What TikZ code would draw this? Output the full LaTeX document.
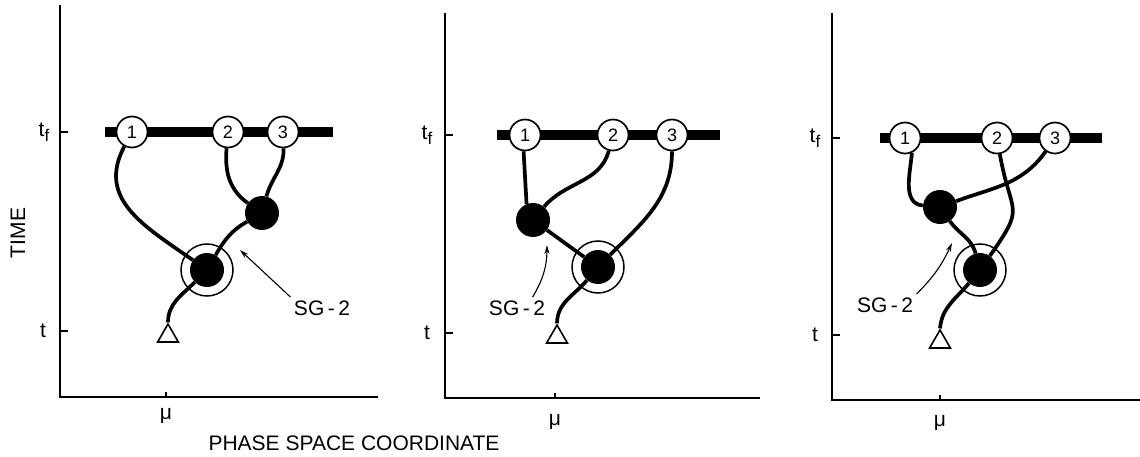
\documentclass[tikz,border=0pt]{standalone}
\usepackage{fontspec}
\setmainfont{Liberation Sans}
\usetikzlibrary{positioning, arrows.meta, shapes.geometric}

\begin{document}
\begin{tikzpicture}[x=1pt, y=1pt, font=\fontsize{21}{24}\selectfont,
    axis/.style={line width=1.5pt},
    bar/.style={line width=10pt},
    final/.style={circle, draw, fill=white, line width=1.7pt, inner sep=0pt, minimum size=31pt, font=\fontsize{18}{20}\selectfont},
    blob/.style={circle, fill=black, inner sep=0pt, minimum size=34pt},
    ring/.style={circle, draw, line width=1.5pt, inner sep=0pt, minimum size=52pt},
    src/.style={regular polygon, regular polygon sides=3, draw, fill=white, line width=1.6pt, inner sep=0pt, minimum size=24pt},
    track/.style={line width=3.7pt},
    note/.style={-{Stealth[length=9pt, width=5pt]}, line width=1.1pt}]
  \useasboundingbox (0,0) rectangle (1140,456);
  \node[rotate=90] (time) at (18,223) {TIME};
  \node (phase) at (354,13) {PHASE SPACE COORDINATE};

  \draw[axis] (60,451) |- (378,59);
  \draw[axis] (60,324) -- +(8,0) (60,125) -- +(8,0) (166,59) -- +(0,5);
  \node (tf1) at (44,324) {t\raisebox{-0.45ex}{\fontsize{17}{20}\selectfont f}};
  \node (t1) at (43,125) {t};
  \node (mu1) at (166,40) {μ};
  \draw[bar] (105,324) -- (333,324);
  \node[final] (e11) at (132,324) {1};
  \node[final] (e12) at (228,324) {2};
  \node[final] (e13) at (283,324) {3};
  \node[blob] (mid1) at (262,243) {};
  \node[ring] (ring1) at (207,186) {};
  \node[blob] (core1) at (207,186) {};
  \node[src] (src1) at (168,120) {};
  \draw[track] (e11) to[out=-118, in=145, looseness=1.15] (core1);
  \draw[track] (e12) to[out=-95, in=145] (mid1);
  \draw[track] (e13) to[out=-88, in=75] (mid1);
  \draw[track] (mid1) to[out=-150, in=60] (core1);
  \draw[track] (core1) to[out=-135, in=90] (src1.corner 1);
  \node (sg1) at (322,148) {SG\,-\,2};
  \coordinate (tip1) at (240,206);
  \draw[note] (sg1.north west) -- (tip1);

  \draw[axis] (445,443) |- (760,58);
  \draw[axis] (445,321) -- +(8,0) (445,123) -- +(8,0) (555,58) -- +(0,5);
  \node (tf2) at (427,321) {t\raisebox{-0.45ex}{\fontsize{17}{20}\selectfont f}};
  \node (t2) at (427,123) {t};
  \node (mu2) at (555,34) {μ};
  \draw[bar] (497,321) -- (720,321);
  \node[final] (e21) at (525,321) {1};
  \node[final] (e22) at (613,321) {2};
  \node[final] (e23) at (672,321) {3};
  \node[blob] (mid2) at (533,236) {};
  \node[ring] (ring2) at (598,189) {};
  \node[blob] (core2) at (598,189) {};
  \node[src] (src2) at (557,119) {};
  \draw[track] (e21.-95) -- (mid2.112);
  \draw[track] (e22) to[out=-105, in=50] (mid2);
  \draw[track] (e23) to[out=-90, in=45] (core2);
  \draw[track] (mid2) -- (core2);
  \draw[track] (core2) to[out=-130, in=90] (src2.corner 1);
  \node (sg2) at (517,148) {SG\,-\,2};
  \coordinate (tip2) at (547,211);
  \draw[note] (sg2.35) to[bend right=15] (tip2);

  \draw[axis] (832,443) |- (1140,56);
  \draw[axis] (832,318) -- +(8,0) (832,121) -- +(8,0) (940,56) -- +(0,5);
  \node (tf3) at (815,318) {t\raisebox{-0.45ex}{\fontsize{17}{20}\selectfont f}};
  \node (t3) at (815,121) {t};
  \node (mu3) at (940,33) {μ};
  \draw[bar] (880,318) -- (1102,318);
  \node[final] (e31) at (905,318) {1};
  \node[final] (e32) at (997,318) {2};
  \node[final] (e33) at (1055,318) {3};
  \node[blob] (mid3) at (940,249) {};
  \node[ring] (ring3) at (980,186) {};
  \node[blob] (core3) at (980,186) {};
  \node[src] (src3) at (940,114) {};
  \draw[track] (e31.-65) to[out=-95, in=175] (mid3);
  \draw[track] (e33) to[out=-125, in=20] (mid3);
  \draw[track] (e32) to[out=-80, in=55, looseness=1.6] (core3);
  \draw[track] (mid3) to[out=-55, in=105] (core3);
  \draw[track] (core3) to[out=-130, in=85] (src3.corner 1);
  \node (sg3) at (885,151) {SG\,-\,2};
  \coordinate (tip3) at (952,213);
  \draw[note] (sg3.north east) to[bend right=10] (tip3);
\end{tikzpicture}
\end{document}
